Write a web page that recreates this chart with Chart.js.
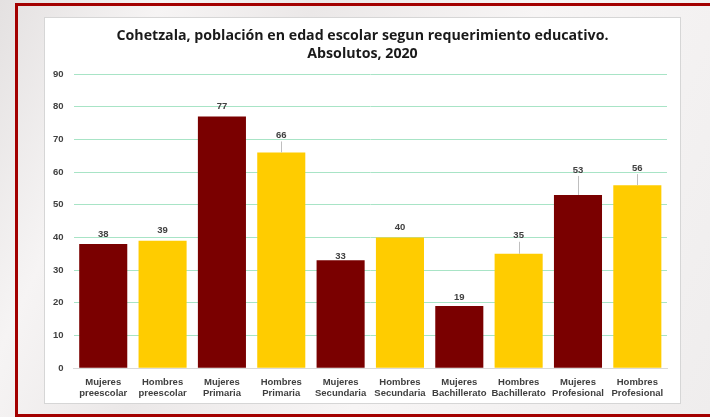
<!DOCTYPE html>
<html>
<head>
<meta charset="utf-8">
<script src="https://cdn.jsdelivr.net/npm/chart.js@4.4.0/dist/chart.umd.min.js"></script>
<style>
  html, body { margin: 0; padding: 0; }
  body {
    width: 710px; height: 417px; position: relative; overflow: hidden;
    background: linear-gradient(115deg, #e4e1e1 0%, #f6f4f4 18%, #ebe8e8 35%, #f7f5f5 60%, #efeded 100%);
  }
  #marco {
    position: absolute; left: 15px; top: 3px; width: 700px; height: 408px;
    border-top: 3px solid #a30000; border-left: 3px solid #a30000; border-bottom: 3px solid #a30000;
  }
  #caja {
    position: absolute; left: 44px; top: 17px; width: 637px; height: 387px;
    background: #fff; border: 1px solid #d6d6d6; box-sizing: border-box;
  }
  #grafica { display: block; }
</style>
</head>
<body>
<div id="marco"></div>
<div id="caja"><canvas id="grafica" width="635" height="385"></canvas></div>
<script>
// Datos de la grafica
const titulo = ['Cohetzala, población en edad escolar segun requerimiento educativo.', 'Absolutos, 2020'];
const categorias = [
  ['Mujeres', 'preescolar'], ['Hombres', 'preescolar'],
  ['Mujeres', 'Primaria'], ['Hombres', 'Primaria'],
  ['Mujeres', 'Secundaria'], ['Hombres', 'Secundaria'],
  ['Mujeres', 'Bachillerato'], ['Hombres', 'Bachillerato'],
  ['Mujeres', 'Profesional'], ['Hombres', 'Profesional']
];
const poblacion = [38, 39, 77, 66, 33, 40, 19, 35, 53, 56];
const ticksY = [0, 10, 20, 30, 40, 50, 60, 70, 80, 90];

// Estilo: colores y separacion de etiquetas (px sobre la barra)
const colorMujeres = '#7a0000';
const colorHombres = '#ffcc00';
const colores = poblacion.map((_, i) => i % 2 === 0 ? colorMujeres : colorHombres);
const alzaEtiqueta = [10, 10, 10, 17, 4, 10, 9, 18, 25, 17];

// Titulo centrado sobre toda la caja (no solo el area de la grafica)
const tituloCentrado = {
  id: 'tituloCentrado',
  afterDraw(chart) {
    const ctx = chart.ctx;
    ctx.save();
    ctx.font = 'bold 14.2px "Open Sans", sans-serif';
    ctx.fillStyle = '#1a1a1a';
    ctx.textAlign = 'center';
    ctx.textBaseline = 'middle';
    titulo.forEach((linea, i) => ctx.fillText(linea, chart.width / 2, 18 + i * 18));
    ctx.restore();
  }
};

// Plugin para etiquetas de datos con lineas guia
const etiquetas = {
  id: 'etiquetas',
  afterDatasetsDraw(chart) {
    const ctx = chart.ctx;
    const meta = chart.getDatasetMeta(0);
    ctx.save();
    ctx.font = 'bold 9.5px "Liberation Sans", Arial, sans-serif';
    ctx.fillStyle = '#404040';
    ctx.textAlign = 'center';
    ctx.textBaseline = 'middle';
    meta.data.forEach((barra, i) => {
      const lift = alzaEtiqueta[i];
      const y = barra.y - lift;
      if (lift > 12) {
        ctx.strokeStyle = '#bfbfbf';
        ctx.lineWidth = 1;
        ctx.beginPath();
        ctx.moveTo(Math.round(barra.x) + 0.5, y + 6);
        ctx.lineTo(Math.round(barra.x) + 0.5, barra.y);
        ctx.stroke();
      }
      ctx.fillText(String(poblacion[i]), barra.x, y);
    });
    ctx.restore();
  }
};

const ctx = document.getElementById('grafica').getContext('2d');
new Chart(ctx, {
  type: 'bar',
  data: {
    labels: categorias,
    datasets: [{
      data: poblacion,
      backgroundColor: colores,
      barPercentage: 0.81,
      categoryPercentage: 1.0
    }]
  },
  options: {
    responsive: false,
    animation: false,
    layout: { padding: { left: -2, right: 13, top: 56, bottom: -4 } },
    plugins: {
      legend: { display: false },
      tooltip: { enabled: false },
      title: { display: false }
    },
    scales: {
      x: {
        grid: { display: false, drawTicks: false },
        border: { display: true, color: '#d9d9d9' },
        ticks: {
          color: '#404040',
          padding: 8,
          maxRotation: 0,
          autoSkip: false,
          font: { family: '"Liberation Sans", Arial, sans-serif', size: 9.5, weight: 'bold', lineHeight: 1.2 }
        }
      },
      y: {
        min: 0,
        max: 90,
        afterBuildTicks(axis) { axis.ticks = ticksY.map(v => ({ value: v })); },
        grid: { color: '#a8e4c6', drawTicks: false, lineWidth: 1 },
        border: { display: false },
        ticks: {
          color: '#404040',
          padding: 10,
          font: { family: '"Liberation Sans", Arial, sans-serif', size: 9.5, weight: 'bold' }
        }
      }
    }
  },
  plugins: [etiquetas, tituloCentrado]
});
</script>
</body>
</html>
